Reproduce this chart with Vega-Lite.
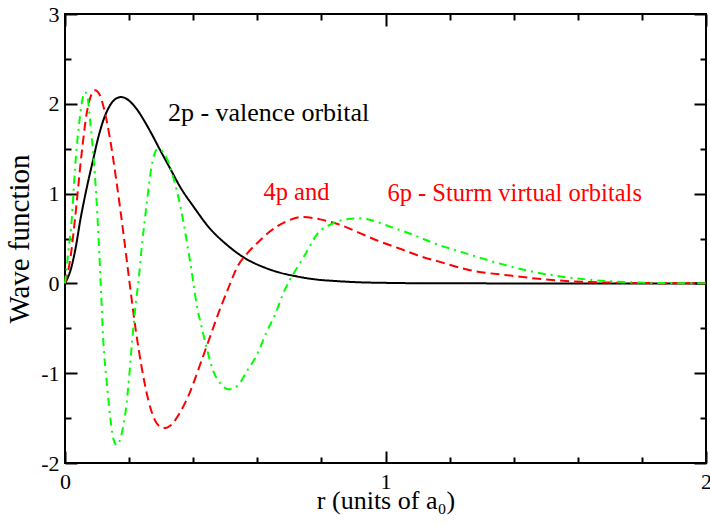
{
  "$schema": "https://vega.github.io/schema/vega-lite/v6.json",
  "width": 641,
  "height": 449,
  "autosize": {"type": "none"},
  "padding": {"left": 65, "top": 14, "right": 4, "bottom": 64},
  "background": "white",
  "config": {
    "view": {"stroke": "black", "strokeWidth": 2},
    "font": "'Liberation Serif', 'DejaVu Serif', serif",
    "axis": {
      "domain": false,
      "grid": false,
      "labelFont": "'Liberation Serif', 'DejaVu Serif', serif",
      "titleFont": "'Liberation Serif', 'DejaVu Serif', serif",
      "labelFontSize": 22,
      "titleFontSize": 28,
      "titleFontWeight": "normal",
      "labelColor": "black",
      "titleColor": "black",
      "tickColor": "black",
      "tickWidth": 2,
      "labelFlush": false,
      "labelOverlap": false
    },
    "text": {"font": "'Liberation Serif', 'DejaVu Serif', serif"}
  },
  "datasets": {
    "curves": [
      {"orbital": "2p", "r": 0, "psi": 0},
      {"orbital": "2p", "r": 0.02, "psi": 0.18},
      {"orbital": "2p", "r": 0.035, "psi": 0.43},
      {"orbital": "2p", "r": 0.047, "psi": 0.69},
      {"orbital": "2p", "r": 0.06, "psi": 0.93},
      {"orbital": "2p", "r": 0.075, "psi": 1.18},
      {"orbital": "2p", "r": 0.088, "psi": 1.38},
      {"orbital": "2p", "r": 0.1, "psi": 1.57},
      {"orbital": "2p", "r": 0.12, "psi": 1.82},
      {"orbital": "2p", "r": 0.14, "psi": 1.98},
      {"orbital": "2p", "r": 0.16, "psi": 2.06},
      {"orbital": "2p", "r": 0.175, "psi": 2.075},
      {"orbital": "2p", "r": 0.19, "psi": 2.06},
      {"orbital": "2p", "r": 0.21, "psi": 2.0},
      {"orbital": "2p", "r": 0.23, "psi": 1.91},
      {"orbital": "2p", "r": 0.244, "psi": 1.83},
      {"orbital": "2p", "r": 0.27, "psi": 1.667},
      {"orbital": "2p", "r": 0.296, "psi": 1.49},
      {"orbital": "2p", "r": 0.328, "psi": 1.28},
      {"orbital": "2p", "r": 0.36, "psi": 1.07},
      {"orbital": "2p", "r": 0.4, "psi": 0.86},
      {"orbital": "2p", "r": 0.45, "psi": 0.62},
      {"orbital": "2p", "r": 0.505, "psi": 0.43},
      {"orbital": "2p", "r": 0.562, "psi": 0.28},
      {"orbital": "2p", "r": 0.62, "psi": 0.18},
      {"orbital": "2p", "r": 0.67, "psi": 0.12},
      {"orbital": "2p", "r": 0.72, "psi": 0.08},
      {"orbital": "2p", "r": 0.78, "psi": 0.045},
      {"orbital": "2p", "r": 0.85, "psi": 0.025},
      {"orbital": "2p", "r": 0.92, "psi": 0.012},
      {"orbital": "2p", "r": 1.0, "psi": 0.006},
      {"orbital": "2p", "r": 1.1, "psi": 0.002},
      {"orbital": "2p", "r": 1.25, "psi": 0.0005},
      {"orbital": "2p", "r": 1.5, "psi": 0},
      {"orbital": "2p", "r": 2.0, "psi": 0},

      {"orbital": "4p", "r": 0, "psi": 0},
      {"orbital": "4p", "r": 0.016, "psi": 0.26},
      {"orbital": "4p", "r": 0.031, "psi": 0.71},
      {"orbital": "4p", "r": 0.052, "psi": 1.45},
      {"orbital": "4p", "r": 0.068, "psi": 1.9},
      {"orbital": "4p", "r": 0.08, "psi": 2.08},
      {"orbital": "4p", "r": 0.094, "psi": 2.15},
      {"orbital": "4p", "r": 0.108, "psi": 2.1},
      {"orbital": "4p", "r": 0.12, "psi": 1.97},
      {"orbital": "4p", "r": 0.14, "psi": 1.62},
      {"orbital": "4p", "r": 0.16, "psi": 1.15},
      {"orbital": "4p", "r": 0.18, "psi": 0.62},
      {"orbital": "4p", "r": 0.2, "psi": 0.05},
      {"orbital": "4p", "r": 0.22, "psi": -0.5},
      {"orbital": "4p", "r": 0.24, "psi": -0.95},
      {"orbital": "4p", "r": 0.26, "psi": -1.3},
      {"orbital": "4p", "r": 0.28, "psi": -1.52},
      {"orbital": "4p", "r": 0.3, "psi": -1.6},
      {"orbital": "4p", "r": 0.315, "psi": -1.61},
      {"orbital": "4p", "r": 0.33, "psi": -1.58},
      {"orbital": "4p", "r": 0.36, "psi": -1.43},
      {"orbital": "4p", "r": 0.39, "psi": -1.21},
      {"orbital": "4p", "r": 0.42, "psi": -0.92},
      {"orbital": "4p", "r": 0.45, "psi": -0.62},
      {"orbital": "4p", "r": 0.48, "psi": -0.32},
      {"orbital": "4p", "r": 0.51, "psi": -0.05},
      {"orbital": "4p", "r": 0.54, "psi": 0.2},
      {"orbital": "4p", "r": 0.57, "psi": 0.34},
      {"orbital": "4p", "r": 0.6, "psi": 0.45},
      {"orbital": "4p", "r": 0.64, "psi": 0.58},
      {"orbital": "4p", "r": 0.69, "psi": 0.69},
      {"orbital": "4p", "r": 0.74, "psi": 0.74},
      {"orbital": "4p", "r": 0.8, "psi": 0.71},
      {"orbital": "4p", "r": 0.86, "psi": 0.65},
      {"orbital": "4p", "r": 0.92, "psi": 0.56},
      {"orbital": "4p", "r": 0.98, "psi": 0.47},
      {"orbital": "4p", "r": 1.05, "psi": 0.38},
      {"orbital": "4p", "r": 1.11, "psi": 0.3},
      {"orbital": "4p", "r": 1.17, "psi": 0.24},
      {"orbital": "4p", "r": 1.26, "psi": 0.15},
      {"orbital": "4p", "r": 1.39, "psi": 0.087},
      {"orbital": "4p", "r": 1.51, "psi": 0.04},
      {"orbital": "4p", "r": 1.64, "psi": 0.015},
      {"orbital": "4p", "r": 1.76, "psi": 0.006},
      {"orbital": "4p", "r": 1.88, "psi": 0.002},
      {"orbital": "4p", "r": 2.0, "psi": 0.001},

      {"orbital": "6p", "r": 0, "psi": 0},
      {"orbital": "6p", "r": 0.01, "psi": 0.34},
      {"orbital": "6p", "r": 0.021, "psi": 0.71},
      {"orbital": "6p", "r": 0.031, "psi": 1.27},
      {"orbital": "6p", "r": 0.042, "psi": 1.71},
      {"orbital": "6p", "r": 0.052, "psi": 2.0},
      {"orbital": "6p", "r": 0.062, "psi": 2.13},
      {"orbital": "6p", "r": 0.07, "psi": 2.08},
      {"orbital": "6p", "r": 0.078, "psi": 1.82},
      {"orbital": "6p", "r": 0.088, "psi": 1.45},
      {"orbital": "6p", "r": 0.099, "psi": 0.89},
      {"orbital": "6p", "r": 0.107, "psi": 0.34},
      {"orbital": "6p", "r": 0.112, "psi": -0.05},
      {"orbital": "6p", "r": 0.119, "psi": -0.61},
      {"orbital": "6p", "r": 0.13, "psi": -1.09},
      {"orbital": "6p", "r": 0.138, "psi": -1.39},
      {"orbital": "6p", "r": 0.151, "psi": -1.73},
      {"orbital": "6p", "r": 0.161, "psi": -1.8},
      {"orbital": "6p", "r": 0.17, "psi": -1.76},
      {"orbital": "6p", "r": 0.18, "psi": -1.62},
      {"orbital": "6p", "r": 0.19, "psi": -1.4},
      {"orbital": "6p", "r": 0.2, "psi": -1.05},
      {"orbital": "6p", "r": 0.21, "psi": -0.62},
      {"orbital": "6p", "r": 0.22, "psi": -0.25},
      {"orbital": "6p", "r": 0.23, "psi": 0.05},
      {"orbital": "6p", "r": 0.24, "psi": 0.42},
      {"orbital": "6p", "r": 0.255, "psi": 0.89},
      {"orbital": "6p", "r": 0.27, "psi": 1.3},
      {"orbital": "6p", "r": 0.288, "psi": 1.49},
      {"orbital": "6p", "r": 0.3, "psi": 1.48},
      {"orbital": "6p", "r": 0.312, "psi": 1.43},
      {"orbital": "6p", "r": 0.325, "psi": 1.33},
      {"orbital": "6p", "r": 0.338, "psi": 1.18},
      {"orbital": "6p", "r": 0.359, "psi": 0.875},
      {"orbital": "6p", "r": 0.38, "psi": 0.47},
      {"orbital": "6p", "r": 0.4, "psi": 0.02},
      {"orbital": "6p", "r": 0.411, "psi": -0.24},
      {"orbital": "6p", "r": 0.426, "psi": -0.48},
      {"orbital": "6p", "r": 0.442, "psi": -0.72},
      {"orbital": "6p", "r": 0.463, "psi": -0.98},
      {"orbital": "6p", "r": 0.484, "psi": -1.11},
      {"orbital": "6p", "r": 0.51, "psi": -1.18},
      {"orbital": "6p", "r": 0.541, "psi": -1.13},
      {"orbital": "6p", "r": 0.567, "psi": -0.98},
      {"orbital": "6p", "r": 0.598, "psi": -0.8},
      {"orbital": "6p", "r": 0.629, "psi": -0.54},
      {"orbital": "6p", "r": 0.655, "psi": -0.35},
      {"orbital": "6p", "r": 0.68, "psi": -0.12},
      {"orbital": "6p", "r": 0.7, "psi": 0.03},
      {"orbital": "6p", "r": 0.72, "psi": 0.15},
      {"orbital": "6p", "r": 0.749, "psi": 0.32},
      {"orbital": "6p", "r": 0.785, "psi": 0.54},
      {"orbital": "6p", "r": 0.837, "psi": 0.67},
      {"orbital": "6p", "r": 0.88, "psi": 0.715},
      {"orbital": "6p", "r": 0.92, "psi": 0.725},
      {"orbital": "6p", "r": 0.96, "psi": 0.7},
      {"orbital": "6p", "r": 1.0, "psi": 0.65},
      {"orbital": "6p", "r": 1.087, "psi": 0.54},
      {"orbital": "6p", "r": 1.15, "psi": 0.45},
      {"orbital": "6p", "r": 1.264, "psi": 0.32},
      {"orbital": "6p", "r": 1.388, "psi": 0.19},
      {"orbital": "6p", "r": 1.513, "psi": 0.095},
      {"orbital": "6p", "r": 1.638, "psi": 0.04},
      {"orbital": "6p", "r": 1.763, "psi": 0.013},
      {"orbital": "6p", "r": 1.88, "psi": 0.004},
      {"orbital": "6p", "r": 2.0, "psi": 0.001}
    ],
    "label2p": [
      {"r": 0.321, "psi": 1.81, "label": "2p - valence orbital"}
    ],
    "labelSturm": [
      {"r": 0.619, "psi": 0.93, "label": "4p and"},
      {"r": 1.006, "psi": 0.92, "label": "6p -  Sturm virtual orbitals"}
    ]
  },
  "layer": [
    {
      "data": {"name": "curves"},
      "mark": {"type": "line", "strokeWidth": 2, "interpolate": "monotone"},
      "encoding": {
        "x": {
          "field": "r", "type": "quantitative",
          "scale": {"domain": [0, 2], "nice": false, "zero": false},
          "axis": {
            "orient": "bottom",
            "values": [0, 0.2, 0.4, 0.6, 0.8, 1, 1.2, 1.4, 1.6, 1.8, 2],
            "labelExpr": "datum.value % 1 === 0 ? '' + datum.value : ''",
            "tickSize": {"condition": {"test": "datum.value % 1 === 0", "value": -12}, "value": -6},
            "labelPadding": 20,
            "title": "r (units of a₀)",
            "titleFontSize": 26,
            "titlePadding": -11
          }
        },
        "y": {
          "field": "psi", "type": "quantitative",
          "scale": {"domain": [-2, 3], "nice": false, "zero": false},
          "axis": {
            "orient": "left",
            "values": [-2, -1.5, -1, -0.5, 0, 0.5, 1, 1.5, 2, 2.5, 3],
            "labelExpr": "datum.value % 1 === 0 ? '' + datum.value : ''",
            "tickSize": {"condition": {"test": "datum.value % 1 === 0", "value": -12}, "value": -6},
            "labelPadding": 18,
            "title": "Wave function",
            "titleFontSize": 29,
            "titlePadding": 6
          }
        },
        "color": {
          "field": "orbital", "type": "nominal",
          "scale": {"domain": ["2p", "4p", "6p"], "range": ["#000000", "#ff0000", "#00ff00"]},
          "legend": null
        },
        "strokeDash": {
          "field": "orbital", "type": "nominal",
          "scale": {"domain": ["2p", "4p", "6p"], "range": [[1, 0], [9, 5], [8, 5, 2, 5]]},
          "legend": null
        }
      }
    },
    {
      "data": {"name": "label2p"},
      "mark": {"type": "text", "align": "left", "baseline": "alphabetic", "fontSize": 26, "color": "black"},
      "encoding": {
        "x": {
          "field": "r", "type": "quantitative",
          "axis": {
            "orient": "top", "labels": false, "title": null,
            "values": [0, 0.2, 0.4, 0.6, 0.8, 1, 1.2, 1.4, 1.6, 1.8, 2],
            "tickSize": {"condition": {"test": "datum.value % 1 === 0", "value": -12}, "value": -6}
          }
        },
        "y": {
          "field": "psi", "type": "quantitative",
          "axis": {
            "orient": "right", "labels": false, "title": null,
            "values": [-2, -1.5, -1, -0.5, 0, 0.5, 1, 1.5, 2, 2.5, 3],
            "tickSize": {"condition": {"test": "datum.value % 1 === 0", "value": -12}, "value": -6}
          }
        },
        "text": {"field": "label"}
      }
    },
    {
      "data": {"name": "labelSturm"},
      "mark": {"type": "text", "align": "left", "baseline": "alphabetic", "fontSize": 24.5, "color": "#ff0000"},
      "encoding": {
        "x": {"field": "r", "type": "quantitative", "axis": null},
        "y": {"field": "psi", "type": "quantitative", "axis": null},
        "text": {"field": "label"}
      }
    }
  ],
  "resolve": {"axis": {"x": "independent", "y": "independent"}}
}
